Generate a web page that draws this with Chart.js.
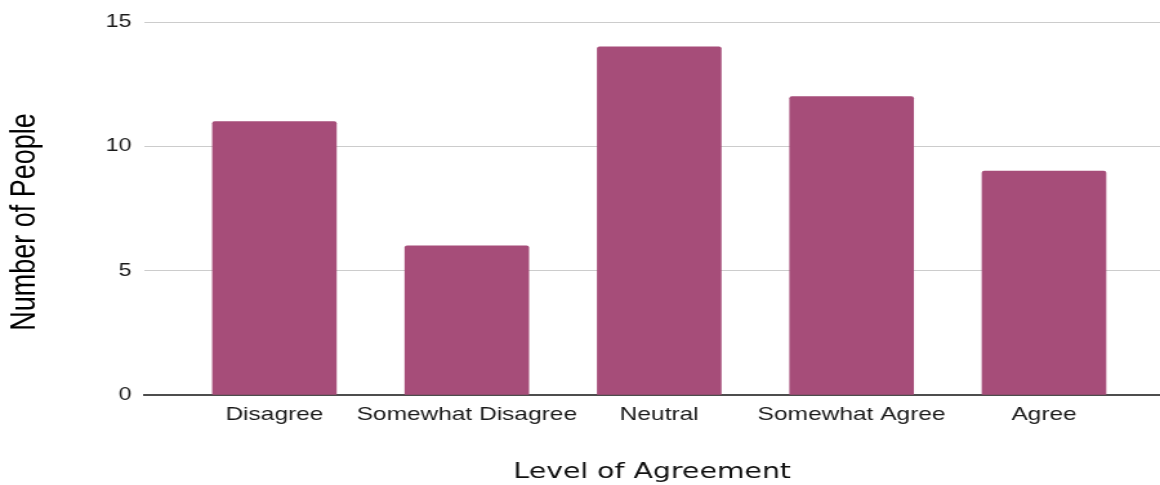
<!DOCTYPE html>
<html>
<head>
<meta charset="utf-8">
<script src="https://cdn.jsdelivr.net/npm/chart.js@4/dist/chart.umd.min.js"></script>
<style>
  html, body { margin: 0; padding: 0; background: #ffffff; overflow: hidden; }
</style>
</head>
<body>
<!-- drawn at 900 px wide and shown at 1160 px, which widens everything horizontally -->
<canvas id="c" width="900" height="485" style="width:1160px;height:485px;display:block"></canvas>
<script>
// Survey responses
const categories = ['Disagree', 'Somewhat Disagree', 'Neutral', 'Somewhat Agree', 'Agree'];
const people = [11, 6, 14, 12, 9];
const yTicks = [0, 5, 10, 15];
const xTitle = 'Level of Agreement';
const yTitle = 'Number of People';

const barColor = '#a64d79';

// Rotated y-axis title placed beside the plot
const yTitlePlugin = {
  id: 'yTitle',
  afterDraw(chart) {
    const ctx = chart.ctx;
    ctx.save();
    ctx.translate(19.5, 222);
    ctx.rotate(-Math.PI / 2);
    ctx.font = '27px "Liberation Sans", Arial, sans-serif';
    ctx.fillStyle = '#000000';
    ctx.textAlign = 'center';
    ctx.textBaseline = 'middle';
    ctx.fillText(yTitle, 0, 0);
    ctx.restore();
  }
};

new Chart(document.getElementById('c'), {
  type: 'bar',
  data: {
    datasets: [{
      data: people.map((v, i) => ({ x: i, y: v })),
      backgroundColor: barColor,
      borderWidth: 0,
      barThickness: 96,
      borderRadius: { topLeft: 2, topRight: 2, bottomLeft: 0, bottomRight: 0 },
      borderSkipped: false
    }]
  },
  options: {
    responsive: false,
    animation: false,
    devicePixelRatio: 1,
    layout: { padding: { top: 22, left: 0, right: 0, bottom: 0 } },
    plugins: {
      legend: { display: false },
      tooltip: { enabled: false }
    },
    scales: {
      x: {
        type: 'linear',
        offset: false,
        min: -0.676,
        max: 4.603,
        grid: { display: false, drawTicks: false },
        border: { display: true, color: '#4d4d4d', width: 2 },
        afterBuildTicks: (s) => { s.ticks = categories.map((_, i) => ({ value: i })); },
        ticks: {
          callback: (v) => categories[v],
          font: { family: '"Liberation Sans", Arial, sans-serif', size: 19 },
          color: '#1a1a1a',
          padding: 8,
          maxRotation: 0,
          autoSkip: false
        },
        title: {
          display: true,
          text: xTitle,
          font: { family: '"DejaVu Sans", Verdana, sans-serif', size: 22 },
          color: '#111111',
          padding: { top: 0, bottom: 0 }
        },
        afterFit: (s) => { s.height = 90; }
      },
      y: {
        min: 0,
        max: 15,
        afterBuildTicks: (s) => { s.ticks = yTicks.map((v) => ({ value: v })); },
        grid: { color: '#cccccc', lineWidth: 1, drawTicks: false },
        border: { display: false },
        ticks: {
          font: { family: '"Liberation Sans", Arial, sans-serif', size: 18 },
          color: '#1a1a1a',
          padding: 10
        },
        afterFit: (s) => { s.width = 112; }
      }
    }
  },
  plugins: [yTitlePlugin]
});
</script>
</body>
</html>
